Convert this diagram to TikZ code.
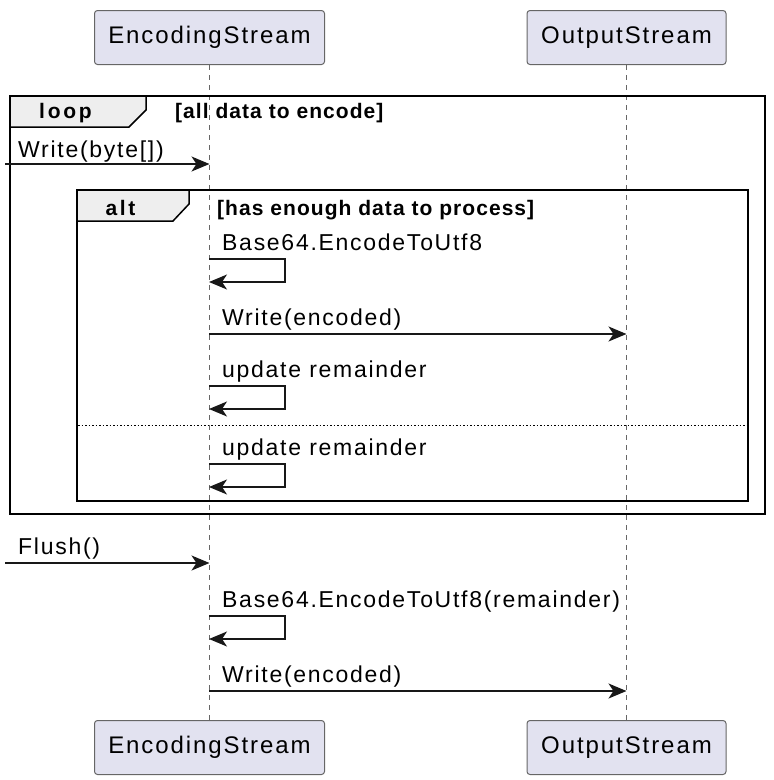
\documentclass[tikz,border=0pt]{standalone}
\usepackage{fontspec}
\setmainfont{Liberation Sans}
\newfontfamily\partfont[LetterSpace=8]{Liberation Sans}
\newfontfamily\msgfont[LetterSpace=7.5]{Liberation Sans}
\newfontfamily\guardfont[LetterSpace=5]{Liberation Sans}
\newfontfamily\keyfont[LetterSpace=13]{Liberation Sans}
\usetikzlibrary{arrows.meta,positioning}
\definecolor{partfill}{RGB}{226,226,240}
\definecolor{tabfill}{RGB}{238,238,238}
\definecolor{lineblack}{RGB}{24,24,24}
\tikzstyle{participant} = [draw=black!60, fill=partfill, line width=1pt, rounded corners=3pt, minimum height=54pt, inner sep=0pt, font=\partfont\fontsize{24}{28}\selectfont]
\tikzstyle{lifeline} = [draw=black!60, line width=1pt, dash pattern=on 5pt off 5pt]
\tikzstyle{msg} = [draw=lineblack, line width=1.5pt, -{Stealth[length=18pt,width=15pt,inset=5pt]}]
\tikzstyle{msglabel} = [anchor=base west, inner sep=0pt, font=\msgfont\fontsize{23}{27}\selectfont]
\tikzstyle{frame} = [draw=black, line width=2pt]
\tikzstyle{tab} = [draw=black, fill=tabfill, line width=1.5pt]
\tikzstyle{keyword} = [anchor=base, inner sep=0pt, font=\keyfont\bfseries\fontsize{21}{25}\selectfont]
\tikzstyle{guard} = [anchor=base west, inner sep=0pt, font=\guardfont\bfseries\fontsize{21}{25}\selectfont]

\begin{document}
\begin{tikzpicture}[x=1pt, y=-1pt]
\useasboundingbox (0,0) rectangle (774,780);

% participants
\node[participant, minimum width=230pt] (enc) at (209.5,37.5) {EncodingStream};
\node[participant, minimum width=199pt] (out) at (626.5,37.5) {OutputStream};
\node[participant, minimum width=230pt] (encB) at (209.5,747.5) {EncodingStream};
\node[participant, minimum width=199pt] (outB) at (626.5,747.5) {OutputStream};
\draw[lifeline] (enc) -- (encB);
\draw[lifeline] (out) -- (outB);

% loop frame
\draw[frame] (10,96) rectangle (765,514);
\draw[tab] (10,96) -- (146,96) -- (146,110) -- (129,127) -- (10,127) -- cycle;
\node[keyword] (loopkey) at (65.5,118) {loop};
\node[guard] (loopguard) at (175,118) {[all data to encode]};

\coordinate (in1) at (5,164);
\node[msglabel] (m1) at (18,157) {Write(byte[])};
\draw[msg] (in1) -- (in1 -| enc);

% alt frame
\draw[frame] (77,190) rectangle (748,501);
\draw[tab] (77,190) -- (189,190) -- (189,204) -- (173,221) -- (77,221) -- cycle;
\node[keyword] (altkey) at (120.5,215) {alt};
\node[guard] (altguard) at (217,215) {[has enough data to process]};
\draw[draw=black, line width=1pt, dash pattern=on 1.5pt off 2pt] (78,425) -- (747,425);

% self messages
\foreach \y/\txt/\nm in {259/Base64.EncodeToUtf8/s1, 386/update remainder/s2,
    464/update remainder/s3, 616/Base64.EncodeToUtf8(remainder)/s4}{
  \coordinate (\nm) at (209,\y);
  \node[msglabel] (\nm label) at (222,\y-9) {\txt};
  \draw[msg] (\nm) -- ++(76,0) -- ++(0,23) -- ++(-76,0);
}

% calls to OutputStream
\coordinate (w1) at (209,334);
\node[msglabel] (w1label) at (222,325) {Write(encoded)};
\draw[msg] (w1) -- (w1 -| out);

\coordinate (in2) at (5,563);
\node[msglabel] (m2) at (18,554) {Flush()};
\draw[msg] (in2) -- (in2 -| enc);

\coordinate (w2) at (209,691);
\node[msglabel] (w2label) at (222,682) {Write(encoded)};
\draw[msg] (w2) -- (w2 -| out);
\end{tikzpicture}
\end{document}
